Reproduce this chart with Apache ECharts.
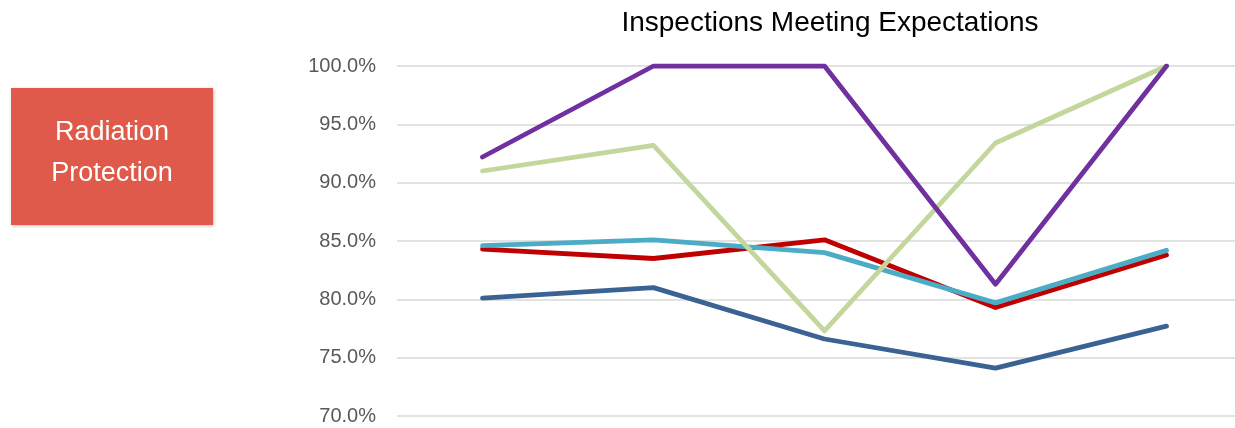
<!DOCTYPE html>
<html>
<head>
<meta charset="utf-8">
<script src="https://cdn.jsdelivr.net/npm/echarts@6/dist/echarts.min.js"></script>
<style>
  html, body { margin: 0; padding: 0; background: #ffffff; overflow: hidden; }
  /* the drawing is a little wider than the page; its right edge is cut off */
  #chart { width: 1252px; height: 428px; }
</style>
</head>
<body>
<div id="chart"></div>
<script>
// Inspection periods (unlabelled on the chart)
const categories = ['P1', 'P2', 'P3', 'P4', 'P5'];

// Share of inspections meeting expectations, in percent
const purpleSeries = [92.2, 100.0, 100.0, 81.3, 100.0];
const greenSeries  = [91.0, 93.2, 77.3, 93.4, 100.0];
const cyanSeries   = [84.6, 85.1, 84.0, 79.7, 84.2];
const redSeries    = [84.3, 83.5, 85.1, 79.3, 83.8];
const blueSeries   = [80.1, 81.0, 76.6, 74.1, 77.7];

const yTicks = { min: 70, max: 100, step: 5 };

const chart = echarts.init(document.getElementById('chart'), null, { renderer: 'canvas' });

function lineSeries(name, data, color) {
  return {
    name: name,
    type: 'line',
    data: data,
    symbol: 'none',
    smooth: false,
    lineStyle: { color: color, width: 4.8, cap: 'round', join: 'round' },
    emphasis: { disabled: true }
  };
}

chart.setOption({
  animation: false,
  backgroundColor: '#ffffff',
  title: {
    text: 'Inspections Meeting Expectations',
    left: 825,
    textAlign: 'center',
    top: 4,
    textStyle: {
      fontFamily: 'Liberation Sans, Arial, sans-serif',
      fontSize: 28,
      fontWeight: 'normal',
      color: '#000000'
    }
  },
  grid: { left: 397, top: 66, right: 0, height: 350, containLabel: false },
  xAxis: {
    type: 'category',
    data: categories,
    boundaryGap: true,
    axisLine: { show: false },
    axisTick: { show: false },
    axisLabel: { show: false },
    splitLine: { show: false }
  },
  yAxis: {
    type: 'value',
    min: yTicks.min,
    max: yTicks.max,
    interval: yTicks.step,
    axisLine: { show: false },
    axisTick: { show: false },
    axisLabel: {
      margin: 21,
      color: '#595959',
      fontFamily: 'Liberation Sans, Arial, sans-serif',
      fontSize: 20,
      formatter: v => v.toFixed(1) + '%'
    },
    splitLine: { lineStyle: { color: '#d9d9d9', width: 1.5 } }
  },
  graphic: [
    {
      type: 'rect',
      left: 11,
      top: 88,
      shape: { width: 202, height: 137 },
      style: {
        fill: '#df5a4a',
        shadowBlur: 3,
        shadowColor: 'rgba(0,0,0,0.25)',
        shadowOffsetX: 1,
        shadowOffsetY: 1
      }
    },
    {
      type: 'text',
      x: 112,
      y: 153,
      style: {
        text: 'Radiation\nProtection',
        fill: '#ffffff',
        font: '27px "Liberation Sans", Arial, sans-serif',
        lineHeight: 41,
        align: 'center',
        verticalAlign: 'middle'
      }
    }
  ],
  series: [
    lineSeries('Blue', blueSeries, '#3a6393'),
    lineSeries('Red', redSeries, '#c00000'),
    lineSeries('Cyan', cyanSeries, '#4bacc6'),
    lineSeries('Green', greenSeries, '#c3d69b'),
    lineSeries('Purple', purpleSeries, '#7030a0')
  ]
});
</script>
</body>
</html>
